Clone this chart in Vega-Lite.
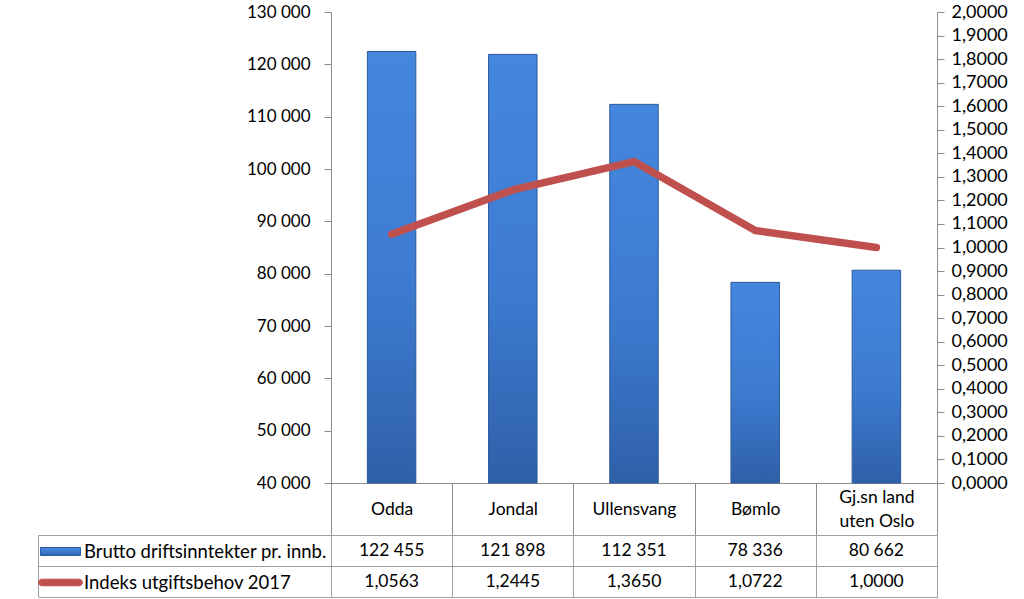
{
  "$schema": "https://vega.github.io/schema/vega-lite/v6.json",
  "background": "white",
  "padding": {"left": 37, "top": 3, "right": 5, "bottom": 2},
  "bounds": "flush",
  "spacing": 52,
  "config": {
    "locale": {"number": {"decimal": ",", "thousands": " ", "grouping": [3], "currency": ["", ""]}},
    "font": "Lato",
    "axis": {"labelFont": "Lato", "labelFontSize": 17, "labelColor": "#000000", "domainColor": "#8C8C8C", "tickColor": "#8C8C8C", "gridColor": "#A6A6A6", "title": null},
    "legend": {"labelFont": "Lato", "labelFontSize": 18.5, "labelColor": "#000000"}
  },
  "datasets": {
    "d": [
      {"kommune": "Odda", "brutto": 122455, "indeks": 1.0563},
      {"kommune": "Jondal", "brutto": 121898, "indeks": 1.2445},
      {"kommune": "Ullensvang", "brutto": 112351, "indeks": 1.3650},
      {"kommune": "Bømlo", "brutto": 78336, "indeks": 1.0722},
      {"kommune": "Gj.sn land uten Oslo", "brutto": 80662, "indeks": 1.0000}
    ]
  },
  "vconcat": [
    {
      "width": 606,
      "height": 471,
      "data": {"name": "d"},
      "view": {"stroke": null},
      "encoding": {
        "x": {
          "field": "kommune", "type": "nominal", "sort": null,
          "scale": {"paddingInner": 0, "paddingOuter": 0},
          "axis": {
            "orient": "bottom", "labelAngle": 0, "tickBand": "extent", "tickSize": 52,
            "labelPadding": {"condition": {"test": "datum.value == 'Gj.sn land uten Oslo'", "value": -38}, "value": -26},
            "labelBaseline": "middle", "labelLineHeight": 24, "labelFontSize": 17.5,
            "labelExpr": "datum.value == 'Gj.sn land uten Oslo' ? ['Gj.sn land', 'uten Oslo'] : datum.value",
            "grid": false
          }
        }
      },
      "layer": [
        {
          "mark": {
            "type": "bar", "width": {"band": 0.4}, "strokeWidth": 1,
            "fill": {"gradient": "linear", "x1": 0, "y1": 0, "x2": 0, "y2": 1, "stops": [{"offset": 0, "color": "#4587DE"}, {"offset": 0.55, "color": "#3D7BD0"}, {"offset": 1, "color": "#2F60A9"}]}
          },
          "encoding": {
            "y": {
              "field": "brutto", "type": "quantitative",
              "scale": {"domain": [40000, 130000], "nice": false, "zero": false, "clamp": true},
              "axis": {
                "orient": "left", "values": [40000, 50000, 60000, 70000, 80000, 90000, 100000, 110000, 120000, 130000],
                "format": ",d", "tickSize": 7, "labelPadding": 14, "grid": false
              }
            },
            "stroke": {
              "datum": "Brutto driftsinntekter pr. innb.", "type": "nominal",
              "scale": {"range": ["#2C5A9C"]},
              "legend": {
                "orient": "none", "legendX": -291, "legendY": 519, "title": null, "padding": 0,
                "symbolType": "M-1,-0.2H1V0.2H-1Z", "symbolSize": 1600,
                "symbolFillColor": "#3C78CC", "symbolStrokeWidth": 1,
                "labelOffset": 3, "labelLimit": 400
              }
            }
          }
        },
        {
          "mark": {"type": "line", "strokeWidth": 7.5, "strokeCap": "round", "strokeJoin": "round"},
          "encoding": {
            "y": {
              "field": "indeks", "type": "quantitative",
              "scale": {"domain": [0, 2], "nice": false},
              "axis": {
                "orient": "right",
                "values": [0, 0.1, 0.2, 0.3, 0.4, 0.5, 0.6, 0.7, 0.8, 0.9, 1, 1.1, 1.2, 1.3, 1.4, 1.5, 1.6, 1.7, 1.8, 1.9, 2],
                "format": ".4f", "tickSize": 7, "labelPadding": 7, "labelFontSize": 18, "grid": false
              }
            },
            "color": {
              "datum": "Indeks utgiftsbehov 2017", "type": "nominal",
              "scale": {"range": ["#C0504D"]},
              "legend": {
                "orient": "none", "legendX": -293, "legendY": 548, "title": null, "padding": 0,
                "symbolType": "M-0.85,-0.15H0.85A0.15,0.15 0 0 1 0.85,0.15H-0.85A0.15,0.15 0 0 1 -0.85,-0.15Z",
                "symbolSize": 1936, "symbolFillColor": "#C0504D", "symbolStrokeWidth": 1,
                "labelOffset": 1, "labelLimit": 400
              }
            }
          }
        }
      ],
      "resolve": {"scale": {"y": "independent"}}
    },
    {
      "width": 606,
      "height": 62,
      "data": {"name": "d"},
      "view": {"stroke": "#A0A0A0"},
      "encoding": {
        "x": {
          "field": "kommune", "type": "nominal", "sort": null,
          "scale": {"paddingInner": 0, "paddingOuter": 0},
          "axis": {"orient": "bottom", "labels": false, "ticks": false, "domain": false, "grid": true, "tickBand": "extent", "gridColor": "#A0A0A0"}
        }
      },
      "layer": [
        {
          "mark": {"type": "text", "fontSize": 17.5, "font": "Lato", "color": "#000000"},
          "encoding": {
            "y": {
              "datum": "Brutto driftsinntekter pr. innb.", "type": "nominal",
              "scale": {"domain": ["Brutto driftsinntekter pr. innb.", "Indeks utgiftsbehov 2017"], "paddingInner": 0, "paddingOuter": 0},
              "axis": {
                "orient": "left", "labels": false, "grid": true, "tickBand": "extent",
                "gridColor": "#A0A0A0", "domain": true, "domainColor": "#A0A0A0",
                "offset": 293, "ticks": true, "tickSize": -293, "tickColor": "#A0A0A0"
              }
            },
            "text": {"field": "brutto", "type": "quantitative", "format": ",d"}
          }
        },
        {
          "mark": {"type": "text", "fontSize": 17.5, "font": "Lato", "color": "#000000"},
          "encoding": {
            "y": {"datum": "Indeks utgiftsbehov 2017", "type": "nominal"},
            "text": {"field": "indeks", "type": "quantitative", "format": ".4f"}
          }
        }
      ]
    }
  ]
}
